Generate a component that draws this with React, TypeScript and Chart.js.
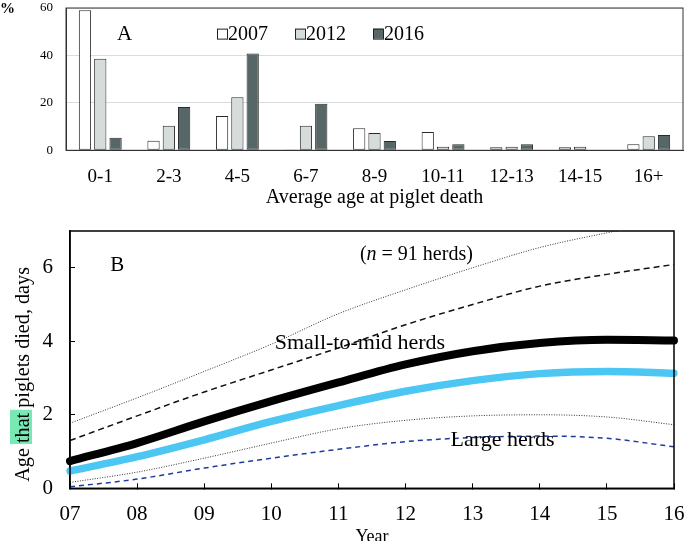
import React, { useEffect, useRef } from 'react';
import { Chart, registerables } from 'chart.js';

Chart.register(...registerables);

const FONT = "'Liberation Serif', 'Times New Roman', serif";

// Panel A
const ageLabels = ['0-1', '2-3', '4-5', '6-7', '8-9', '10-11', '12-13', '14-15', '16+'];
const pct2007 = [59, 4, 14.5, 0.3, 9.3, 7.7, 1.3, 1.3, 2.5];
const pct2012 = [38.6, 10.4, 22.4, 10.4, 7.3, 1.5, 1.5, 1.5, 5.9];
const pct2016 = [5.3, 18.3, 40.8, 19.6, 3.9, 2.5, 2.5, 0, 6.5];
const yTicksA = [0, 20, 40, 60];

// Panel B
const yearLabels = ['07', '08', '09', '10', '11', '12', '13', '14', '15', '16'];
const smallMidMean = [0.74, 1.23, 1.82, 2.37, 2.88, 3.37, 3.73, 3.95, 4.04, 4.02];
const largeMean = [0.47, 0.86, 1.32, 1.82, 2.25, 2.64, 2.93, 3.12, 3.18, 3.13];
const smallMidUpper = [1.3, 1.97, 2.62, 3.22, 3.82, 4.45, 5.0, 5.5, 5.82, 6.09];
const outerUpper = [1.77, 2.46, 3.18, 3.92, 4.75, 5.4, 6.0, 6.55, 6.95, 7.3];
const outerLower = [0.16, 0.44, 0.82, 1.23, 1.62, 1.85, 1.97, 2.0, 1.94, 1.73];
const largeLower = [0.04, 0.25, 0.55, 0.82, 1.06, 1.27, 1.38, 1.42, 1.36, 1.13];
const yTicksB = [0, 2, 4, 6];

const boxPlugin = (id: string, color: string, width: number) => ({
  id,
  afterDraw(chart: any) {
    const { ctx, chartArea: a } = chart;
    ctx.save();
    ctx.strokeStyle = color;
    ctx.lineWidth = width;
    ctx.strokeRect(a.left, a.top, a.right - a.left, a.bottom - a.top);
    ctx.restore();
  },
});

const fixSize = (dim: 'width' | 'height', v: number) => (s: any) => {
  s[dim] = v;
  s.paddingTop = 0;
  s.paddingBottom = 0;
  s.paddingLeft = 0;
  s.paddingRight = 0;
};

export default function App() {
  const refA = useRef<HTMLCanvasElement>(null);
  const refB = useRef<HTMLCanvasElement>(null);

  useEffect(() => {
    const annotA = {
      id: 'annotA',
      afterDraw(chart: any) {
        const { ctx, chartArea: a } = chart;
        const ys = chart.scales.y;
        ctx.save();
        ctx.fillStyle = '#000';
        ctx.font = `bold 15px ${FONT}`;
        ctx.textBaseline = 'middle';
        ctx.textAlign = 'left';
        ctx.fillText('%', 0, a.top + 1);
        ctx.font = `21px ${FONT}`;
        ctx.fillText('A', a.left + 51, ys.getPixelForValue(48.8));
        const yc = ys.getPixelForValue(49.2);
        let x = a.left + 151;
        ctx.font = `20px ${FONT}`;
        chart.data.datasets.forEach((ds: any) => {
          ctx.fillStyle = ds.backgroundColor;
          ctx.fillRect(x, yc - 5, 10, 10);
          ctx.strokeStyle = '#222';
          ctx.lineWidth = 1;
          ctx.strokeRect(x + 0.5, yc - 4.5, 10, 10);
          ctx.fillStyle = '#000';
          ctx.fillText(ds.label, x + 11, yc + 1);
          x += 78;
        });
        ctx.restore();
      },
    };

    const chartA = new Chart(refA.current!, {
      type: 'bar',
      data: {
        labels: ageLabels,
        datasets: [
          { label: '2007', data: pct2007, backgroundColor: '#ffffff', borderColor: '#2a2a2a', borderWidth: 1, borderSkipped: false },
          { label: '2012', data: pct2012, backgroundColor: '#d5dcd9', borderColor: '#2a2a2a', borderWidth: 1, borderSkipped: false },
          { label: '2016', data: pct2016, backgroundColor: '#576767', borderColor: '#2a2a2a', borderWidth: 1, borderSkipped: false },
        ],
      },
      options: {
        responsive: false,
        animation: false,
        layout: { autoPadding: false, padding: { top: 8, right: 2, left: 0, bottom: 0 } } as any,
        datasets: { bar: { categoryPercentage: 0.67, barPercentage: 0.8 } } as any,
        plugins: { legend: { display: false }, tooltip: { enabled: false } },
        scales: {
          x: {
            grid: { display: false, drawTicks: false },
            border: { display: true, color: '#333', width: 1 },
            ticks: { font: { family: FONT, size: 19 }, color: '#000', padding: 15, maxRotation: 0, autoSkip: false },
            title: {
              display: true,
              text: 'Average age at piglet death',
              font: { family: FONT, size: 20 },
              color: '#000',
              padding: { top: 0, bottom: 0 },
            },
            afterFit: fixSize('height', 59.7),
          },
          y: {
            min: 0,
            max: 60,
            afterBuildTicks(s: any) { s.ticks = yTicksA.map((v) => ({ value: v })); },
            grid: { color: '#d7dddd', drawTicks: false, lineWidth: 1 },
            border: { display: true, color: '#333', width: 1 },
            ticks: { font: { family: FONT, size: 13 }, color: '#000', padding: 13 },
            afterFit: fixSize('width', 66),
          },
        },
      },
      plugins: [boxPlugin('boxA', '#333', 1), annotA],
    });

    const annotB = {
      id: 'annotB',
      afterDraw(chart: any) {
        const { ctx } = chart;
        const xs = chart.scales.x;
        const ys = chart.scales.y;
        const px = (v: number) => xs.left + (v / (yearLabels.length - 1)) * (xs.right - xs.left);
        ctx.save();
        ctx.fillStyle = '#000';
        ctx.textBaseline = 'middle';
        ctx.textAlign = 'left';
        ctx.font = `21px ${FONT}`;
        ctx.fillText('B', px(0.6), ys.getPixelForValue(6.07));
        ctx.font = `20px ${FONT}`;
        let x = px(4.32);
        const yN = ys.getPixelForValue(6.36);
        ctx.fillText('(', x, yN); x += ctx.measureText('(').width;
        ctx.font = `italic 20px ${FONT}`;
        ctx.fillText('n', x, yN); x += ctx.measureText('n').width;
        ctx.font = `20px ${FONT}`;
        ctx.fillText(' = 91 herds)', x, yN);
        ctx.font = `22px ${FONT}`;
        ctx.fillText('Small-to-mid herds', px(3.05), ys.getPixelForValue(3.95));
        ctx.fillText('Large herds', px(5.67), ys.getPixelForValue(1.32));

        // Y-axis title, rotated, with highlighted word
        const parts = ['Age ', 'that', ' piglets died, days'];
        ctx.font = `20.2px ${FONT}`;
        const widths = parts.map((p) => ctx.measureText(p).width);
        const total = widths.reduce((s, w) => s + w, 0);
        const cx = 23;
        const cy = ys.getPixelForValue(3.1);
        ctx.translate(cx, cy);
        ctx.rotate(-Math.PI / 2);
        let rx = -total / 2;
        parts.forEach((p, i) => {
          if (p === 'that') {
            ctx.fillStyle = '#78e8b4';
            ctx.fillRect(rx - 1, -13, widths[i] + 4, 22);
          }
          ctx.fillStyle = '#000';
          ctx.fillText(p, rx, 1);
          rx += widths[i];
        });
        ctx.restore();
      },
    };

    const lineBase = { pointRadius: 0, cubicInterpolationMode: 'monotone' as const, fill: false };

    const chartB = new Chart(refB.current!, {
      type: 'line',
      data: {
        labels: yearLabels,
        datasets: [
          { ...lineBase, label: 'Small-to-mid herds', data: smallMidMean, borderColor: '#000', borderWidth: 8, borderCapStyle: 'round' },
          { ...lineBase, label: 'Large herds', data: largeMean, borderColor: '#4cc6f2', borderWidth: 7.5, borderCapStyle: 'round' },
          { ...lineBase, label: 'Small-to-mid upper', data: smallMidUpper, borderColor: '#111', borderWidth: 1.5, borderDash: [6, 4] },
          { ...lineBase, label: 'Upper bound', data: outerUpper, borderColor: '#333', borderWidth: 1, borderDash: [1, 1.5] },
          { ...lineBase, label: 'Lower bound', data: outerLower, borderColor: '#333', borderWidth: 1, borderDash: [1, 1.5] },
          { ...lineBase, label: 'Large lower', data: largeLower, borderColor: '#1e3c9e', borderWidth: 1.5, borderDash: [5, 4] },
        ],
      },
      options: {
        responsive: false,
        animation: false,
        layout: { autoPadding: false, padding: { top: 26, right: 11, left: 0, bottom: 0 } } as any,
        plugins: { legend: { display: false }, tooltip: { enabled: false } },
        scales: {
          x: {
            grid: { drawOnChartArea: false, drawTicks: true, tickLength: -5, color: '#000', lineWidth: 1 },
            border: { display: true, color: '#000', width: 1.5 },
            ticks: { font: { family: FONT, size: 21 }, color: '#000', padding: 19, maxRotation: 0, autoSkip: false },
            title: {
              display: true,
              text: 'Year',
              font: { family: FONT, size: 18 },
              color: '#000',
              padding: { top: 0, bottom: 12 },
            },
            afterFit: fixSize('height', 71.7),
          },
          y: {
            min: 0,
            max: 7,
            afterBuildTicks(s: any) { s.ticks = yTicksB.map((v) => ({ value: v })); },
            grid: { drawOnChartArea: false, drawTicks: true, tickLength: -5, color: '#000', lineWidth: 1 },
            border: { display: true, color: '#000', width: 1.5 },
            ticks: { font: { family: FONT, size: 21 }, color: '#000', padding: 22 },
            afterFit: fixSize('width', 70),
          },
        },
      },
      plugins: [boxPlugin('boxB', '#000', 1.5), annotB],
    });

    return () => {
      chartA.destroy();
      chartB.destroy();
    };
  }, []);

  return (
    <div style={{ position: 'fixed', left: 0, top: 0, width: 685, height: 541, overflow: 'hidden', background: '#fff' }}>
      <canvas ref={refA} width={685} height={210} style={{ position: 'absolute', left: 0, top: 0, width: 685, height: 210 }} />
      <canvas ref={refB} width={685} height={355} style={{ position: 'absolute', left: 0, top: 205, width: 685, height: 355 }} />
    </div>
  );
}
